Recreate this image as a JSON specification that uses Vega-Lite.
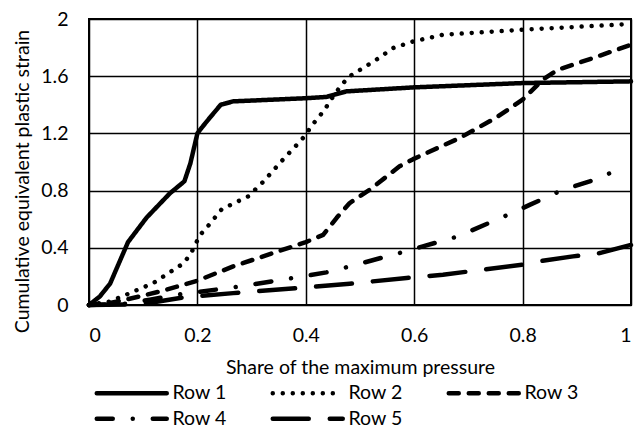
{
  "$schema": "https://vega.github.io/schema/vega-lite/v6.json",
  "width": 542,
  "height": 286,
  "autosize": "none",
  "padding": {"left": 89, "top": 19, "right": 13, "bottom": 124},
  "background": "white",
  "config": {
    "view": {"stroke": "#000", "strokeWidth": 2},
    "font": "Lato",
    "axis": {
      "domain": false,
      "ticks": false,
      "grid": true,
      "gridColor": "#000",
      "gridOpacity": 1,
      "gridWidth": 1.5,
      "labelColor": "#000",
      "labelFont": "Lato",
      "labelFontSize": 19.5,
      "titleColor": "#000",
      "titleFont": "Lato",
      "titleFontSize": 19.5,
      "titleFontWeight": "normal"
    },
    "legend": {
      "labelFont": "Lato",
      "labelFontSize": 19.5,
      "labelColor": "#000"
    }
  },
  "data": {
    "values": [
      {"series": "Row 1", "x": 0, "y": 0},
      {"series": "Row 1", "x": 0.02, "y": 0.06},
      {"series": "Row 1", "x": 0.039, "y": 0.15},
      {"series": "Row 1", "x": 0.072, "y": 0.44},
      {"series": "Row 1", "x": 0.079, "y": 0.475},
      {"series": "Row 1", "x": 0.106, "y": 0.61},
      {"series": "Row 1", "x": 0.149, "y": 0.78},
      {"series": "Row 1", "x": 0.176, "y": 0.865},
      {"series": "Row 1", "x": 0.187, "y": 0.99},
      {"series": "Row 1", "x": 0.2, "y": 1.2},
      {"series": "Row 1", "x": 0.208, "y": 1.24},
      {"series": "Row 1", "x": 0.223, "y": 1.31},
      {"series": "Row 1", "x": 0.243, "y": 1.4},
      {"series": "Row 1", "x": 0.266, "y": 1.424},
      {"series": "Row 1", "x": 0.4, "y": 1.446},
      {"series": "Row 1", "x": 0.438, "y": 1.455},
      {"series": "Row 1", "x": 0.475, "y": 1.494},
      {"series": "Row 1", "x": 0.6, "y": 1.522},
      {"series": "Row 1", "x": 0.8, "y": 1.552},
      {"series": "Row 1", "x": 1.0, "y": 1.564},
      {"series": "Row 2", "x": 0, "y": 0},
      {"series": "Row 2", "x": 0.039, "y": 0.025},
      {"series": "Row 2", "x": 0.076, "y": 0.084},
      {"series": "Row 2", "x": 0.119, "y": 0.154},
      {"series": "Row 2", "x": 0.174, "y": 0.29},
      {"series": "Row 2", "x": 0.188, "y": 0.36},
      {"series": "Row 2", "x": 0.197, "y": 0.43},
      {"series": "Row 2", "x": 0.205, "y": 0.49},
      {"series": "Row 2", "x": 0.217, "y": 0.54},
      {"series": "Row 2", "x": 0.245, "y": 0.67},
      {"series": "Row 2", "x": 0.294, "y": 0.76},
      {"series": "Row 2", "x": 0.321, "y": 0.86},
      {"series": "Row 2", "x": 0.361, "y": 1.03},
      {"series": "Row 2", "x": 0.386, "y": 1.13},
      {"series": "Row 2", "x": 0.4, "y": 1.19},
      {"series": "Row 2", "x": 0.41, "y": 1.25},
      {"series": "Row 2", "x": 0.435, "y": 1.366},
      {"series": "Row 2", "x": 0.444, "y": 1.424},
      {"series": "Row 2", "x": 0.466, "y": 1.54},
      {"series": "Row 2", "x": 0.481, "y": 1.6},
      {"series": "Row 2", "x": 0.53, "y": 1.715},
      {"series": "Row 2", "x": 0.561, "y": 1.797},
      {"series": "Row 2", "x": 0.598, "y": 1.843},
      {"series": "Row 2", "x": 0.653, "y": 1.89},
      {"series": "Row 2", "x": 0.8, "y": 1.925},
      {"series": "Row 2", "x": 1.0, "y": 1.965},
      {"series": "Row 3", "x": 0, "y": 0},
      {"series": "Row 3", "x": 0.039, "y": 0.014},
      {"series": "Row 3", "x": 0.094, "y": 0.06},
      {"series": "Row 3", "x": 0.143, "y": 0.107},
      {"series": "Row 3", "x": 0.2, "y": 0.17},
      {"series": "Row 3", "x": 0.266, "y": 0.27},
      {"series": "Row 3", "x": 0.4, "y": 0.44},
      {"series": "Row 3", "x": 0.432, "y": 0.49},
      {"series": "Row 3", "x": 0.457, "y": 0.61},
      {"series": "Row 3", "x": 0.481, "y": 0.713},
      {"series": "Row 3", "x": 0.518, "y": 0.806},
      {"series": "Row 3", "x": 0.573, "y": 0.97},
      {"series": "Row 3", "x": 0.598, "y": 1.02},
      {"series": "Row 3", "x": 0.684, "y": 1.168},
      {"series": "Row 3", "x": 0.751, "y": 1.31},
      {"series": "Row 3", "x": 0.8, "y": 1.436},
      {"series": "Row 3", "x": 0.837, "y": 1.575},
      {"series": "Row 3", "x": 0.865, "y": 1.645},
      {"series": "Row 3", "x": 0.93, "y": 1.727},
      {"series": "Row 3", "x": 1.0, "y": 1.82},
      {"series": "Row 4", "x": 0, "y": 0},
      {"series": "Row 4", "x": 0.07, "y": 0.01},
      {"series": "Row 4", "x": 0.112, "y": 0.037},
      {"series": "Row 4", "x": 0.171, "y": 0.077},
      {"series": "Row 4", "x": 0.2, "y": 0.09},
      {"series": "Row 4", "x": 0.278, "y": 0.13},
      {"series": "Row 4", "x": 0.377, "y": 0.189},
      {"series": "Row 4", "x": 0.438, "y": 0.228},
      {"series": "Row 4", "x": 0.481, "y": 0.27},
      {"series": "Row 4", "x": 0.579, "y": 0.37},
      {"series": "Row 4", "x": 0.616, "y": 0.41},
      {"series": "Row 4", "x": 0.681, "y": 0.48},
      {"series": "Row 4", "x": 0.776, "y": 0.636},
      {"series": "Row 4", "x": 0.813, "y": 0.7},
      {"series": "Row 4", "x": 0.871, "y": 0.8},
      {"series": "Row 4", "x": 0.936, "y": 0.88},
      {"series": "Row 4", "x": 0.975, "y": 0.945},
      {"series": "Row 5", "x": 0, "y": 0},
      {"series": "Row 5", "x": 0.07, "y": 0.003},
      {"series": "Row 5", "x": 0.108, "y": 0.012},
      {"series": "Row 5", "x": 0.174, "y": 0.053},
      {"series": "Row 5", "x": 0.266, "y": 0.083},
      {"series": "Row 5", "x": 0.4, "y": 0.123},
      {"series": "Row 5", "x": 0.481, "y": 0.149},
      {"series": "Row 5", "x": 0.586, "y": 0.189},
      {"series": "Row 5", "x": 0.653, "y": 0.212},
      {"series": "Row 5", "x": 0.727, "y": 0.247},
      {"series": "Row 5", "x": 0.8, "y": 0.282},
      {"series": "Row 5", "x": 0.837, "y": 0.31},
      {"series": "Row 5", "x": 0.893, "y": 0.34},
      {"series": "Row 5", "x": 0.942, "y": 0.363},
      {"series": "Row 5", "x": 1.0, "y": 0.42}
    ]
  },
  "mark": {
    "type": "line",
    "color": "#000",
    "strokeWidth": 4.5,
    "strokeCap": "round",
    "strokeJoin": "round"
  },
  "encoding": {
    "x": {
      "field": "x",
      "type": "quantitative",
      "scale": {"domain": [0, 1], "nice": false, "zero": false},
      "axis": {
        "values": [0, 0.2, 0.4, 0.6, 0.8, 1],
        "format": "~g",
        "labelBaseline": "alphabetic",
        "labelPadding": 36,
        "title": "Share of the maximum pressure",
        "titleBaseline": "alphabetic",
        "titleY": 68
      }
    },
    "y": {
      "field": "y",
      "type": "quantitative",
      "scale": {"domain": [0, 2], "nice": false},
      "axis": {
        "values": [0, 0.4, 0.8, 1.2, 1.6, 2],
        "format": "~g",
        "labelPadding": 21,
        "labelBaseline": "middle",
        "title": "Cumulative equivalent plastic strain",
        "titleBaseline": "alphabetic",
        "titleAngle": 270,
        "titleX": -60.5,
        "titleY": 162,
        "titleAlign": "center"
      }
    },
    "strokeDash": {
      "field": "series",
      "type": "nominal",
      "scale": {
        "domain": ["Row 1", "Row 2", "Row 3", "Row 4", "Row 5"],
        "range": [[1, 0], [0.01, 10], [10, 10], [16, 20, 0.01, 20], [36, 21]]
      },
      "legend": {
        "title": null,
        "orient": "none",
        "legendX": 33,
        "legendY": 364,
        "direction": "horizontal",
        "columns": 3,
        "columnPadding": 36,
        "rowPadding": 5,
        "symbolType": "M-7,0H7",
        "symbolSize": 100,
        "symbolStrokeWidth": 4.5,
        "symbolStrokeColor": "#000",
        "symbolFillColor": "transparent",
        "labelOffset": 31,
        "gridAlign": "all",
        "encode": {
          "symbols": {"update": {"strokeCap": {"value": "round"}}}
        }
      }
    }
  }
}
